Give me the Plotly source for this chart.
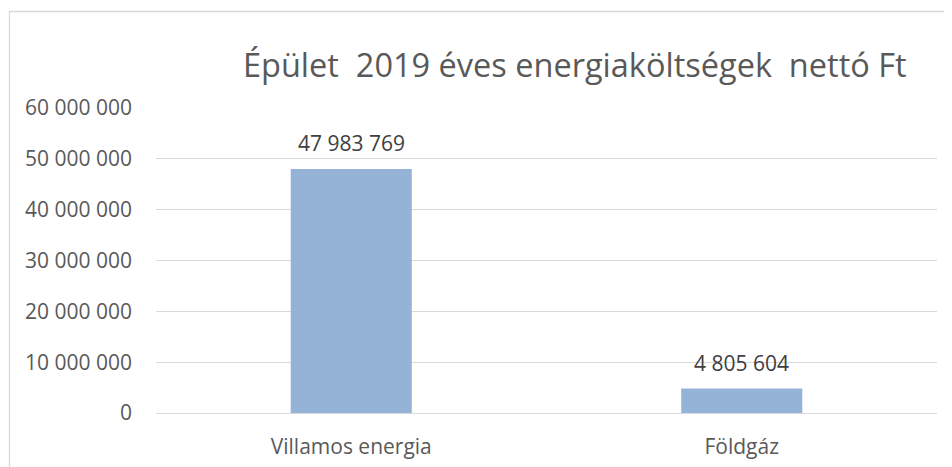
import plotly.graph_objects as go

categories = ["Villamos energia", "Földgáz"]
values = [47983769, 4805604]
value_labels = ["47 983 769", "4 805 604"]
tick_vals = [0, 10000000, 20000000, 30000000, 40000000, 50000000, 60000000]
tick_text = ["0", "10 000 000", "20 000 000", "30 000 000", "40 000 000", "50 000 000", "60 000 000"]
title_text = "Épület  2019 éves energiaköltségek  nettó Ft"

FONT = "Open Sans"
TXT = "#595959"

fig = go.Figure()
fig.add_trace(go.Bar(
    x=categories, y=values,
    marker=dict(color="#95B3D7", line=dict(width=0)),
    width=0.31,
    hoverinfo="skip",
))

for c, v, t in zip(categories, values, value_labels):
    fig.add_annotation(x=c, y=v, text=t, showarrow=False, yanchor="bottom",
                       yshift=10, font=dict(family=FONT, size=21, color="#404040"))

W, H = 952, 467
L, R, T, B = 148, 23, 100, 62
pw, ph = W - L - R, H - T - B

def px_x(p):
    return (p - L) / pw

def px_y(p):
    return (H - B - p) / ph

fig.add_shape(type="rect", xref="paper", yref="paper",
              x0=px_x(1.5), x1=px_x(990), y0=px_y(500), y1=px_y(3.5),
              line=dict(color="#D9D9D9", width=1.3), fillcolor="rgba(0,0,0,0)", layer="below")

fig.add_annotation(xref="paper", yref="paper", x=px_x(567), y=px_y(57),
                   text=title_text, showarrow=False, xanchor="center", yanchor="middle",
                   font=dict(family=FONT, size=32.5, color=TXT))

fig.update_layout(
    width=W, height=H,
    margin=dict(l=L, r=R, t=T, b=B, pad=0),
    plot_bgcolor="white", paper_bgcolor="white",
    showlegend=False,
    font=dict(family=FONT, size=21, color=TXT),
    xaxis=dict(showgrid=False, showline=False, ticks="", tickfont=dict(size=21, color=TXT),
               ticklabelstandoff=19),
    yaxis=dict(range=[0, 60000000], tickvals=tick_vals, ticktext=tick_text,
               showgrid=True, gridcolor="#D9D9D9", gridwidth=1.3, zeroline=True,
               zerolinecolor="#D9D9D9", zerolinewidth=1.3, showline=False, ticks="",
               tickfont=dict(size=21, color=TXT), ticklabelstandoff=23),
)

fig.write_html("out.html")
